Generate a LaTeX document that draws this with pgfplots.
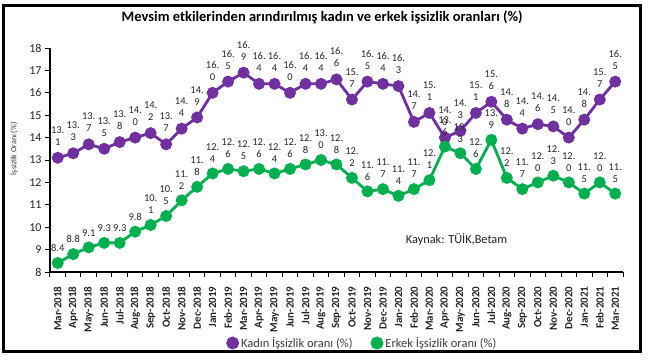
\documentclass[border=0pt]{standalone}
\usepackage{pgfplots}
\usepackage{pgfplotstable}
\pgfplotsset{compat=1.18}
\usepackage{fontspec}
\setmainfont{Carlito}
\definecolor{kpurple}{RGB}{112,48,160}
\definecolor{kgreen}{RGB}{0,176,80}
\definecolor{lblc}{RGB}{40,40,40}

\pgfplotstableread{
x y a b
0 13.1 13 1
1 13.3 13 3
2 13.7 13 7
3 13.5 13 5
4 13.8 13 8
5 14.0 14 0
6 14.2 14 2
7 13.7 13 7
8 14.4 14 4
9 14.9 14 9
10 16.0 16 0
11 16.5 16 5
12 16.9 16 9
13 16.4 16 4
14 16.4 16 4
15 16.0 16 0
16 16.4 16 4
17 16.4 16 4
18 16.6 16 6
19 15.7 15 7
20 16.5 16 5
21 16.4 16 4
22 16.3 16 3
23 14.7 14 7
24 15.1 15 1
25 14.0 14 0
26 14.3 14 3
27 15.1 15 1
28 15.6 15 6
29 14.8 14 8
30 14.4 14 4
31 14.6 14 6
32 14.5 14 5
33 14.0 14 0
34 14.8 14 8
35 15.7 15 7
36 16.5 16 5
}\kadin

\pgfplotstableread{
x y a b
0 8.4 8 4
1 8.8 8 8
2 9.1 9 1
3 9.3 9 3
4 9.3 9 3
5 9.8 9 8
6 10.1 10 1
7 10.5 10 5
8 11.2 11 2
9 11.8 11 8
10 12.4 12 4
11 12.6 12 6
12 12.5 12 5
13 12.6 12 6
14 12.4 12 4
15 12.6 12 6
16 12.8 12 8
17 13.0 13 0
18 12.8 12 8
19 12.2 12 2
20 11.6 11 6
21 11.7 11 7
22 11.4 11 4
23 11.7 11 7
24 12.1 12 1
25 13.6 13 6
26 13.3 13 3
27 12.6 12 6
28 13.9 13 9
29 12.2 12 2
30 11.7 11 7
31 12.0 12 0
32 12.3 12 3
33 12.0 12 0
34 11.5 11 5
35 12.0 12 0
36 11.5 11 5
}\erkek

\begin{document}
\begin{tikzpicture}[x=1pt,y=1pt]
\fill[white] (-50,-90) rectangle (598,272);
\begin{axis}[
  scale only axis, width=573pt, height=224pt,
  at={(0pt,0pt)}, anchor=south west,
  clip=false,
  xmin=-0.5, xmax=36.5, ymin=8, ymax=18,
  axis x line*=bottom, axis y line*=left,
  axis line style={line width=1.1pt, black, -},
  tick align=outside,
  ytick={8,9,...,18},
  xtick={0,1,...,36},
  minor xtick={-0.5,0.5,...,36.5},
  major x tick style={draw=none},
  minor tick length=5pt,
  major tick length=5pt,
  tick style={line width=1pt, black},
  xticklabels={Mar-2018,Apr-2018,May-2018,Jun-2018,Jul-2018,Aug-2018,Sep-2018,Oct-2018,Nov-2018,Dec-2018,Jan-2019,Feb-2019,Mar-2019,Apr-2019,May-2019,Jun-2019,Jul-2019,Aug-2019,Sep-2019,Oct-2019,Nov-2019,Dec-2019,Jan-2020,Feb-2020,Mar-2020,Apr-2020,May-2020,Jun-2020,Jul-2020,Aug-2020,Sep-2020,Oct-2020,Nov-2020,Dec-2020,Jan-2021,Feb-2021,Mar-2021},
  xticklabel style={yshift=-6pt, rotate=90, anchor=east, font=\bfseries\fontsize{11}{12}\selectfont, text=black!85},
  yticklabel style={font=\fontsize{12}{14}\selectfont, text=black!85},
  /pgf/number format/assume math mode=true,
  title={Mevsim etkilerinden arındırılmış kadın ve erkek işsizlik oranları (\%)},
  title style={at={(axis description cs:0.475,1.11)}, anchor=center, font=\bfseries\fontsize{14.5}{16}\selectfont},
  ylabel={İşsizlik Oranı (\%)},
  ylabel style={at={(axis description cs:-0.063,0.55)}, anchor=center, font=\fontsize{8}{9}\selectfont, text=black!80},
  legend style={draw=none, fill=none, at={(axis description cs:0.545,-0.317)}, anchor=center,
    legend columns=2, font=\fontsize{12.5}{14}\selectfont, text=black!75,
    /tikz/every even column/.append style={column sep=16pt}},
  legend image code/.code={\fill[#1] (0.3cm,0pt) circle (5pt);},
  every node near coord/.append style={font=\fontsize{10.5}{12}\selectfont, text=lblc, align=center, inner sep=1pt, yshift=10pt},
]
\addplot[color=kpurple, line width=2.8pt, mark=*, mark size=4.5pt, mark options={solid},
  point meta=\thisrow{a},
  visualization depends on={\thisrow{b}\as\lblB},
  nodes near coords={\pgfmathprintnumber{\pgfplotspointmeta}.\\\pgfmathprintnumber{\lblB}}] table[x=x,y=y] {\kadin};
\addlegendentry{Kadın İşsizlik oranı (\%)}
\addplot[color=kgreen, line width=2.8pt, mark=*, mark size=4.5pt, mark options={solid}] table[x=x,y=y] {\erkek};
\addlegendentry{Erkek İşsizlik oranı (\%)}
\addplot[forget plot, draw=none, mark=none, restrict x to domain=-1:5.5,
  point meta=\thisrow{a},
  visualization depends on={\thisrow{b}\as\lblB},
  nodes near coords={\pgfmathprintnumber{\pgfplotspointmeta}.\pgfmathprintnumber{\lblB}}] table[x=x,y=y] {\erkek};
\addplot[forget plot, draw=none, mark=none, restrict x to domain=5.5:40,
  point meta=\thisrow{a},
  visualization depends on={\thisrow{b}\as\lblB},
  nodes near coords={\pgfmathprintnumber{\pgfplotspointmeta}.\\\pgfmathprintnumber{\lblB}}] table[x=x,y=y] {\erkek};
\node[anchor=west, font=\fontsize{12.3}{14}\selectfont, text=black!85] at (axis description cs:0.615,0.143) {Kaynak: TÜİK,Betam};
\end{axis}
\draw[line width=3pt] (-46,266) rectangle (590,-79);
\pgfresetboundingbox
\useasboundingbox (-50,-90) rectangle (598,272);
\end{tikzpicture}
\end{document}
